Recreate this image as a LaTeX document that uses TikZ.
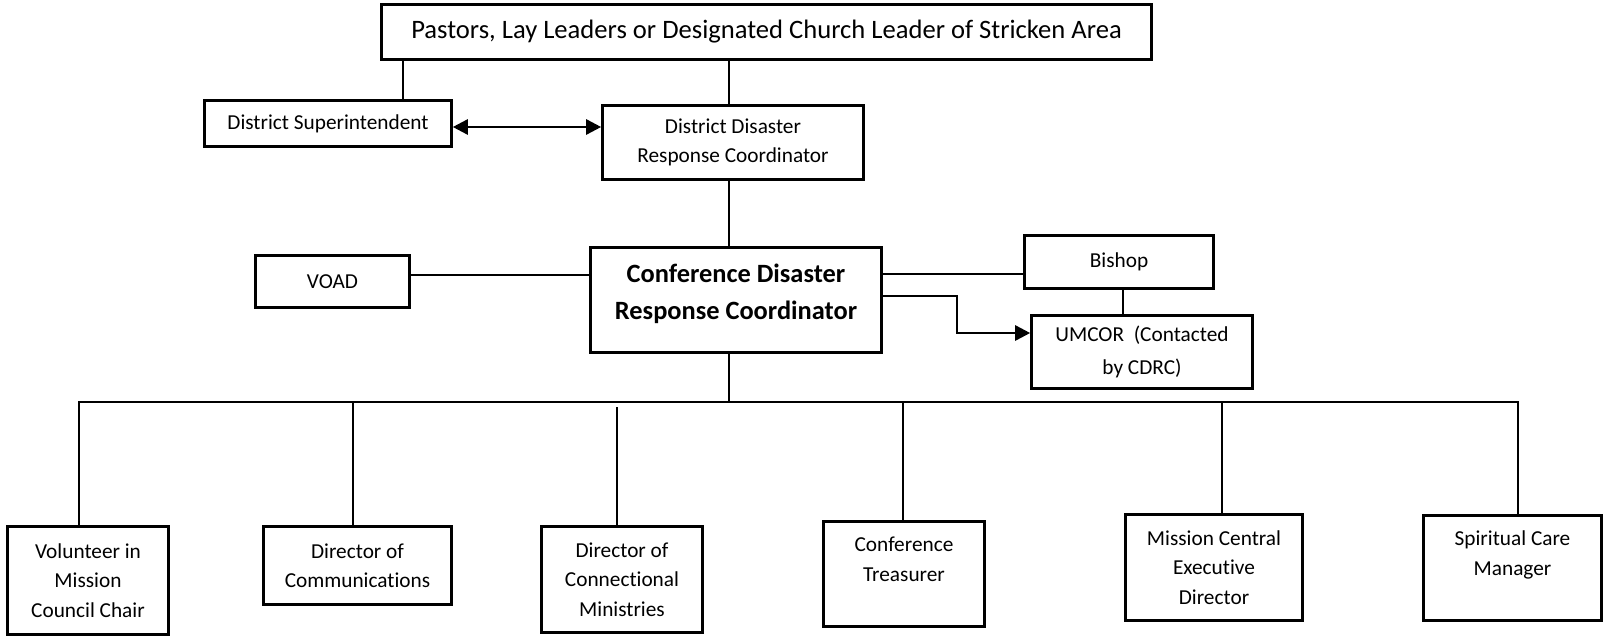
\documentclass[tikz,border=0pt]{standalone}
\usepackage{fontspec}
\setmainfont[Ligatures=NoCommon]{Carlito}
\usetikzlibrary{arrows.meta}
\begin{document}
\begin{tikzpicture}[x=1pt,y=-1pt,
  box/.style={draw, line width=2.6pt, inner sep=0pt, align=center,
    font=\fontsize{21.3}{29.5}\selectfont},
  conn/.style={line width=2.6pt, line join=miter},
  tipa/.style={-{Triangle[length=15pt,width=15pt]}},
  tipb/.style={{Triangle[length=15pt,width=15pt]}-{Triangle[length=15pt,width=15pt]}}]
\useasboundingbox (0,0) rectangle (1606,637);

% boxes
\node[box, minimum width=770pt, minimum height=55pt,
  font=\fontsize{26.6}{32}\selectfont] (top) at (766.5,32)
  {Pastors, Lay Leaders or Designated Church Leader of Stricken Area};
\node[box, minimum width=247pt, minimum height=46pt] (ds) at (328,123.5)
  {District Superintendent};
\node[box, minimum width=261pt, minimum height=74pt] (ddrc) at (733,142.5)
  {District Disaster\\Response Coordinator};
\node[box, minimum width=154pt, minimum height=52pt] (voad) at (332.5,281.5)
  {VOAD};
\node[box, minimum width=291pt, minimum height=105pt, text depth=16.5pt,
  font=\fontsize{26.4}{37}\selectfont\bfseries] (cdrc) at (736,300)
  {Conference Disaster\\Response Coordinator};
\node[box, minimum width=189pt, minimum height=53pt] (bishop) at (1119,262)
  {Bishop};
\node[box, minimum width=221pt, minimum height=73pt,
  font=\fontsize{21.3}{33}\selectfont] (umcor) at (1142,352)
  {UMCOR\ \ (Contacted\\by CDRC)};
\node[box, minimum width=161pt, minimum height=108pt] (vol) at (88,580.5)
  {Volunteer in\\Mission\\Council Chair};
\node[box, minimum width=188pt, minimum height=78pt] (comm) at (357.5,565.5)
  {Director of\\Communications};
\node[box, minimum width=161pt, minimum height=106pt] (conn) at (622,579.5)
  {Director of\\Connectional\\Ministries};
\node[box, minimum width=161pt, minimum height=105pt] (treas) at (904,574)
  {Conference\\Treasurer\\\mbox{}};
\node[box, minimum width=177pt, minimum height=106pt] (mced) at (1214,567.5)
  {Mission Central\\Executive\\Director};
\node[box, minimum width=178pt, minimum height=105pt] (scm) at (1512.5,568)
  {Spiritual Care\\Manager\\\mbox{}};

% bus coordinates
\coordinate (b1) at (79,402);
\coordinate (b2) at (353,402);
\coordinate (b3) at (617,407);
\coordinate (b4) at (903,402);
\coordinate (b5) at (1222,402);
\coordinate (b6) at (1518,402);
\coordinate (bc) at (729,402);
\coordinate (bend) at (957,333);

% connectors
\draw[conn] (top.south -| 403,0) -- (ds.north -| 403,0);
\draw[conn] (top.south -| 729,0) -- (ddrc.north -| 729,0);
\draw[conn,tipb] (ds.east |- 0,127) -- (ddrc.west |- 0,127);
\draw[conn] (ddrc.south -| 729,0) -- (cdrc.north -| 729,0);
\draw[conn] (voad.east |- 0,275) -- (cdrc.west |- 0,275);
\draw[conn] (cdrc.east |- 0,274) -- (bishop.west |- 0,274);
\draw[conn] (bishop.south -| 1123,0) -- (umcor.north -| 1123,0);
\draw[conn,tipa] (cdrc.east |- 0,296) -| (bend) -- (umcor.west |- bend);
\draw[conn] (cdrc.south -| bc) -- (bc);
\draw[conn] (vol.north -| b1) -- (b1) -- (b6) -- (scm.north -| b6);
\draw[conn] (b2) -- (comm.north -| b2);
\draw[conn] (b3) -- (conn.north -| b3);
\draw[conn] (b4) -- (treas.north -| b4);
\draw[conn] (b5) -- (mced.north -| b5);
\end{tikzpicture}
\end{document}
